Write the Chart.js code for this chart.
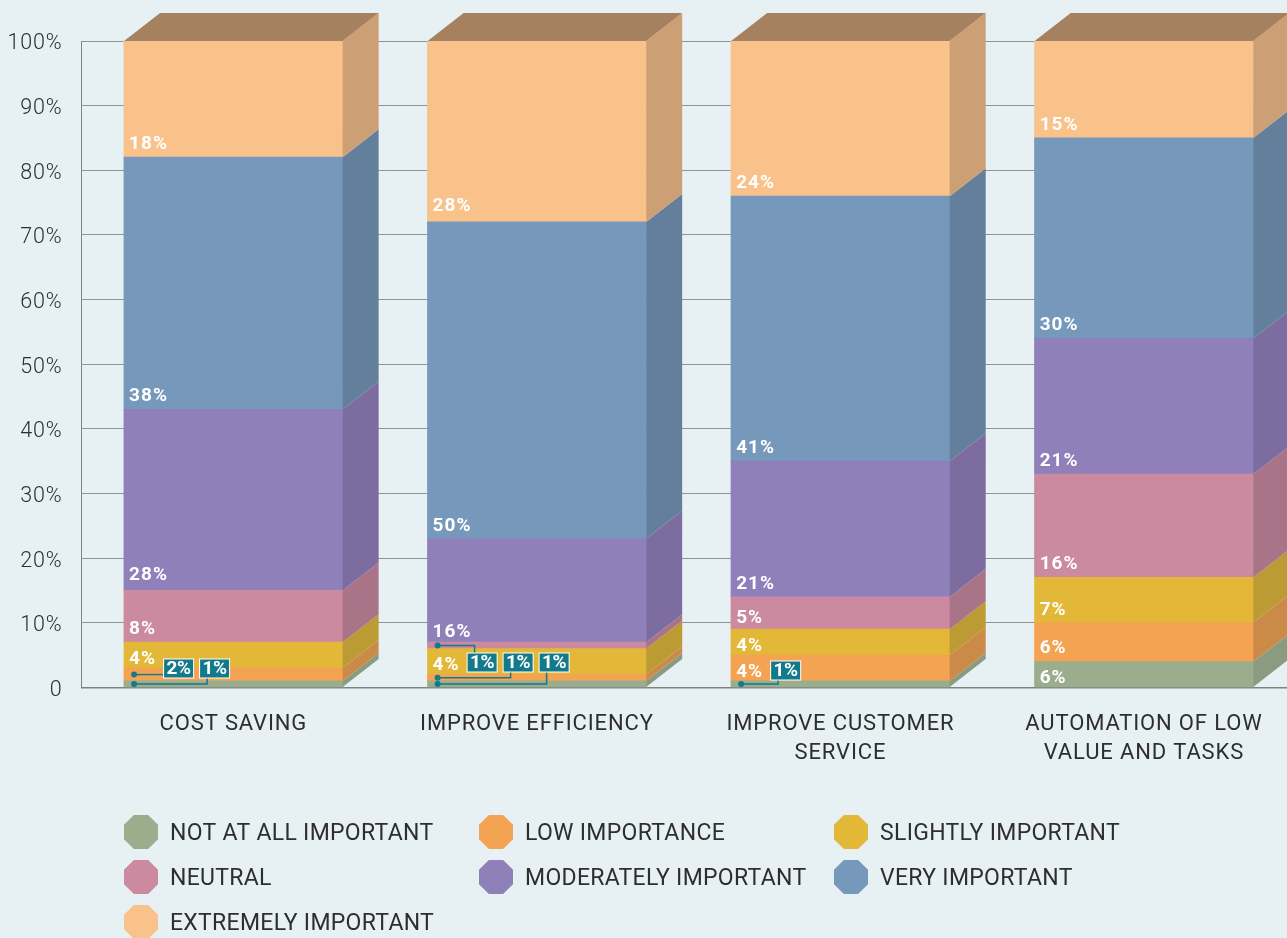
<!DOCTYPE html>
<html>
<head>
<meta charset="utf-8">
<script src="https://cdn.jsdelivr.net/npm/chart.js@4"></script>
<style>
html,body{margin:0;padding:0;width:1287px;height:938px;overflow:hidden;background:#e7f0f3}
#wrap{position:absolute;left:0;top:0;width:1287px;height:938px;overflow:hidden}
canvas{display:block}
</style>
</head>
<body>
<div id="wrap"><canvas id="c" width="1320" height="938"></canvas></div>
<script>
const categories = [['COST SAVING'], ['IMPROVE EFFICIENCY'], ['IMPROVE CUSTOMER','SERVICE'], ['AUTOMATION OF LOW','VALUE AND TASKS']];
const seriesNames = ['NOT AT ALL IMPORTANT','LOW IMPORTANCE','SLIGHTLY IMPORTANT','NEUTRAL','MODERATELY IMPORTANT','VERY IMPORTANT','EXTREMELY IMPORTANT'];
const seriesColors = ['#9aae8d','#f4a352','#e3b838','#cb8aa0','#8f80ba','#7698bb','#f9c28b'];
const sideColors = ['#8a9c80','#cb8a48','#bc9b34','#a97488','#7c6c9f','#647f9b','#cca074'];
const topColor = '#a58160';

// Segment heights as drawn
const notAtAll = [1,1,1,4];
const lowImportance = [2,1,4,6];
const slightly = [4,4,4,7];
const neutral = [8,1,5,16];
const moderately = [28,16,21,21];
const very = [39,49,41,31];
const extremely = [18,28,24,15];
const seriesValues = [notAtAll,lowImportance,slightly,neutral,moderately,very,extremely];

// Percentages as printed
const notAtAllLabels = [1,1,1,6];
const lowImportanceLabels = [2,1,4,6];
const slightlyLabels = [4,4,4,7];
const neutralLabels = [8,1,5,16];
const moderatelyLabels = [28,16,21,21];
const veryLabels = [38,50,41,30];
const extremelyLabels = [18,28,24,15];
const seriesLabels = [notAtAllLabels,lowImportanceLabels,slightlyLabels,neutralLabels,moderatelyLabels,veryLabels,extremelyLabels];

const yTicks = [0,10,20,30,40,50,60,70,80,90,100];

const TEAL = '#137a8c';
const DX = 36, DY = 28;
const FONT = 'Roboto, sans-serif';

// callout layout: [category, series] -> box left offset from bar, box centre offset from axis zero
const callouts = {
  '0-0': {box:76, cy:-19},
  '0-1': {box:40, cy:-19},
  '1-0': {box:112, cy:-25},
  '1-1': {box:76, cy:-25},
  '1-3': {box:40, cy:-25},
  '2-0': {box:40, cy:-17}
};
// small vertical adjustments of individual printed labels
const labelNudge = {'1-6':-3,'0-4':-2,'1-4':3,'2-3':2};

const depthPlugin = {
  id:'depth',
  beforeDraw(chart){
    chart.ctx.letterSpacing = '0.85px';
  },
  afterDatasetsDraw(chart){
    const ctx = chart.ctx;
    ctx.save();
    const n = chart.data.datasets.length;
    chart.data.datasets.forEach((ds,di)=>{
      const meta = chart.getDatasetMeta(di);
      meta.data.forEach(bar=>{
        const r = bar.x + bar.width/2;
        ctx.fillStyle = sideColors[di];
        ctx.beginPath();
        ctx.moveTo(r,bar.y);
        ctx.lineTo(r+DX,bar.y-DY);
        ctx.lineTo(r+DX,bar.base-DY);
        ctx.lineTo(r,bar.base);
        ctx.closePath();
        ctx.fill();
      });
    });
    chart.getDatasetMeta(n-1).data.forEach(bar=>{
      const l = bar.x - bar.width/2, r = bar.x + bar.width/2;
      ctx.fillStyle = topColor;
      ctx.beginPath();
      ctx.moveTo(l,bar.y);
      ctx.lineTo(l+DX,bar.y-DY);
      ctx.lineTo(r+DX,bar.y-DY);
      ctx.lineTo(r,bar.y);
      ctx.closePath();
      ctx.fill();
    });
    ctx.restore();
  },
  afterDraw(chart){
    const ctx = chart.ctx, zero = chart.scales.y.getPixelForValue(0);
    ctx.save();
    ctx.textBaseline = 'middle';
    // value labels
    ctx.fillStyle = '#fff';
    ctx.font = 'bold 19px '+FONT;
    ctx.letterSpacing = '1px';
    ctx.textAlign = 'left';
    chart.data.datasets.forEach((ds,di)=>{
      chart.getDatasetMeta(di).data.forEach((bar,ci)=>{
        if (callouts[ci+'-'+di]) return;
        const l = bar.x - bar.width/2;
        const h = bar.base - bar.y;
        const nudge = labelNudge[ci+'-'+di] || 0;
        ctx.fillText(seriesLabels[di][ci]+'%', l+5, bar.base - (h<30 ? 9 : 13) + nudge);
      });
    });
    // callouts
    Object.keys(callouts).forEach(key=>{
      const [ci,di] = key.split('-').map(Number);
      const c = callouts[key];
      const bar = chart.getDatasetMeta(di).data[ci];
      const l = bar.x - bar.width/2;
      const segY = (bar.y+bar.base)/2;
      const bw = 29, bh = 18;
      const bx = l+c.box, by = zero+c.cy-bh/2;
      const dotX = l+10;
      ctx.strokeStyle = TEAL; ctx.fillStyle = TEAL; ctx.lineWidth = 1.5;
      ctx.beginPath();
      ctx.moveTo(dotX,segY);
      const inBand = segY>by && segY<by+bh;
      if (inBand) { ctx.lineTo(bx,segY); }
      else { const ex = bx+7; ctx.lineTo(ex,segY); ctx.lineTo(ex, segY<by ? by : by+bh); }
      ctx.stroke();
      ctx.beginPath(); ctx.arc(dotX,segY,3,0,Math.PI*2); ctx.fill();
      ctx.fillStyle = '#fff';
      ctx.fillRect(bx-1,by-1,bw+2,bh+2);
      ctx.fillStyle = TEAL;
      ctx.fillRect(bx,by,bw,bh);
      ctx.fillStyle = '#fff';
      ctx.font = 'bold 19px '+FONT;
      ctx.letterSpacing = '-0.3px';
      ctx.textAlign = 'center';
      ctx.fillText(seriesLabels[di][ci]+'%', bx+bw/2, by+bh/2+1);
      ctx.letterSpacing = '1px';
      ctx.textAlign = 'left';
    });
    // legend
    const colX = [141,496,851], rowY = [832,877,922], R = 17;
    ctx.font = '23px '+FONT;
    ctx.letterSpacing = '0.3px';
    chart.data.datasets.forEach((ds,i)=>{
      const x = colX[i%3], y = rowY[Math.floor(i/3)];
      const k = R*0.42;
      ctx.fillStyle = ds.backgroundColor;
      ctx.beginPath();
      [[-k,-R],[k,-R],[R,-k],[R,k],[k,R],[-k,R],[-R,k],[-R,-k]].forEach((p,j)=>{
        if(j) ctx.lineTo(x+p[0],y+p[1]); else ctx.moveTo(x+p[0],y+p[1]);
      });
      ctx.closePath(); ctx.fill();
      ctx.fillStyle = '#2e2e2e';
      ctx.fillText(ds.label, x+29, y+2);
    });
    ctx.restore();
  }
};

new Chart(document.getElementById('c'),{
  type:'bar',
  data:{
    labels:categories,
    datasets:seriesNames.map((name,i)=>({
      label:name,
      data:seriesValues[i],
      backgroundColor:seriesColors[i],
      borderWidth:0,
      inflateAmount:0.5,
      categoryPercentage:1,
      barPercentage:0.72
    }))
  },
  options:{
    responsive:false,
    animation:false,
    devicePixelRatio:1,
    layout:{padding:{top:41,right:24.3,left:0,bottom:0}},
    plugins:{legend:{display:false},tooltip:{enabled:false},title:{display:false}},
    scales:{
      x:{
        stacked:true,
        afterFit(s){s.height=250.5;},
        grid:{display:false},
        border:{display:true,color:'#7c8384',width:1.5},
        ticks:{padding:14,maxRotation:0,minRotation:0,autoSkip:false,color:'#2e2e2e',font:{family:'Roboto',size:22,lineHeight:'29px'}}
      },
      y:{
        stacked:true,min:0,max:100,
        afterFit(s){s.width=81.6;},
        afterBuildTicks(s){s.ticks=yTicks.map(v=>({value:v}));},
        grid:{color:'#8e9596',lineWidth:1,drawTicks:false},
        border:{display:true,color:'#7c8384',width:1},
        ticks:{padding:19,labelOffset:3,color:'#2e2e2e',font:{family:'Roboto',size:21.5,weight:'300'},callback:v=>v===0?'0':v+'%'}
      }
    }
  },
  plugins:[depthPlugin]
});
</script>
</body>
</html>
